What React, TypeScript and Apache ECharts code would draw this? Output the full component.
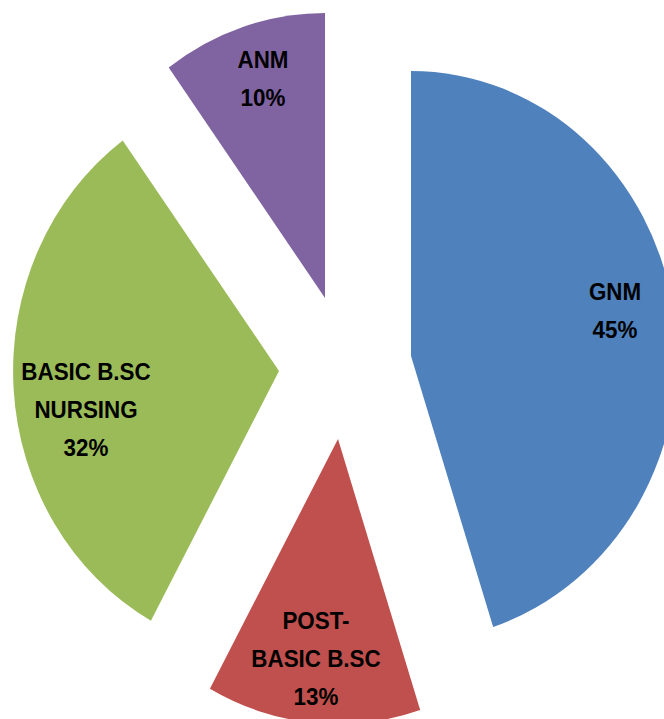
import React, { useEffect, useRef } from "react";
import * as echarts from "echarts";

const categories = ["GNM", "POST-\nBASIC B.SC", "BASIC B.SC\nNURSING", "ANM"];
const values = [45, 13, 32, 10];
const colors = ["#4F81BD", "#C0504D", "#9BBB59", "#8064A2"];

// The original pie is slightly squeezed horizontally
const SQUEEZE = 0.933;
const PAGE_W = 664;
const PAGE_H = 719;
const CHART_W = PAGE_W / SQUEEZE;

// exploded slice apex (screen px) for each category, and label block center
const sliceCenters: [number, number][] = [
  [411, 356],
  [338, 439],
  [279, 371],
  [325, 298],
];
const labelCenters: [number, number][] = [
  [615, 311],
  [316, 659],
  [86, 410],
  [263, 79],
];
const RADIUS = 285;

export default function App() {
  const ref = useRef<HTMLDivElement>(null);
  useEffect(() => {
    if (!ref.current) return;
    const chart = echarts.init(ref.current, undefined, { renderer: "svg" });
    const series = categories.map((_, si) => ({
      type: "pie",
      center: [sliceCenters[si][0] / SQUEEZE, sliceCenters[si][1]],
      radius: [0, RADIUS],
      startAngle: 90,
      clockwise: true,
      silent: true,
      avoidLabelOverlap: false,
      emphasis: { disabled: true },
      labelLine: { show: false },
      labelLayout: () => ({
        x: labelCenters[si][0] / SQUEEZE,
        y: labelCenters[si][1],
      }),
      data: categories.map((name, i) => ({
        name,
        value: values[i],
        itemStyle: {
          color: i === si ? colors[i] : "rgba(0,0,0,0)",
          borderWidth: 0,
        },
        label: {
          show: i === si,
          position: "inside",
          formatter: "{b}\n{d}%",
          color: "#000",
          fontFamily: "Liberation Sans",
          fontWeight: "bold",
          fontSize: 24,
          lineHeight: 38,
          align: "center",
          verticalAlign: "middle",
        },
      })),
    }));
    chart.setOption({
      animation: false,
      backgroundColor: "#ffffff",
      tooltip: { show: false },
      series,
    } as any);
    return () => chart.dispose();
  }, []);
  return (
    <div
      style={{
        position: "absolute",
        left: 0,
        top: 0,
        width: PAGE_W,
        height: PAGE_H,
        overflow: "hidden",
        background: "#fff",
      }}
    >
      <div
        ref={ref}
        style={{
          width: CHART_W,
          height: PAGE_H,
          transform: `scaleX(${SQUEEZE})`,
          transformOrigin: "0 0",
        }}
      />
    </div>
  );
}
